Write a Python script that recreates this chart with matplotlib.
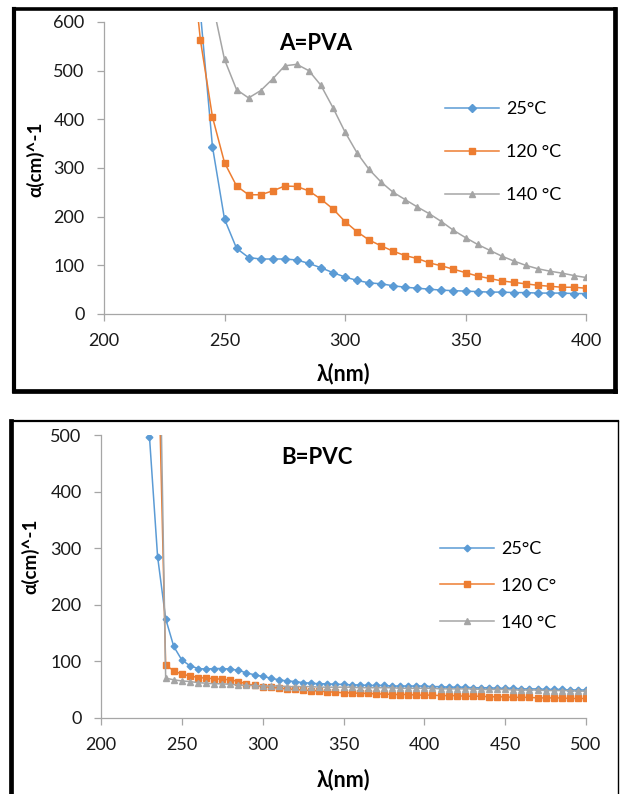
import numpy as np
import matplotlib.pyplot as plt
from matplotlib.lines import Line2D

plt.rcParams['font.family'] = ['Lato', 'DejaVu Sans']

# ---- data, panel A (PVA) ----
lam_a = np.arange(235, 401, 5)
a_25 = [1000, 620, 344, 195, 135, 116, 113, 113, 113, 111, 104, 95, 85, 76, 69, 64, 62,
        58, 55, 53, 51, 49, 48, 47, 46, 45, 45, 44, 44, 43, 43, 43, 42, 42]
a_120 = [800, 563, 405, 311, 263, 245, 245, 253, 263, 262, 253, 236, 216, 190, 169, 152, 140,
         129, 120, 114, 105, 99, 92, 85, 78, 73, 68, 65, 62, 59, 57, 55, 55, 53]
a_140 = [1200, 900, 640, 523, 461, 444, 459, 483, 510, 513, 500, 470, 424, 374, 331, 297, 271,
         250, 235, 220, 206, 190, 172, 157, 143, 131, 119, 109, 100, 93, 88, 84, 79, 75]

# ---- data, panel B (PVC) ----
lam_b25 = np.arange(230, 501, 5)
lam_b = np.arange(235, 501, 5)
b_25 = [496, 285, 175, 126, 102, 92, 87, 86, 87, 87, 86, 84, 79, 76, 73, 70, 67, 65, 64,
        62, 61, 60, 60, 59, 59, 58, 58, 57, 57, 57, 56, 56, 56, 56, 56, 55, 55, 54, 54,
        54, 53, 53, 53, 52, 52, 52, 51, 51, 51, 50, 50, 50, 49, 49, 49]
b_120 = [700, 93, 83, 77, 74, 71, 70, 69, 68, 67, 64, 60, 57, 55, 54, 52, 51, 50, 49,
         48, 47, 46, 45, 44, 44, 43, 43, 42, 42, 41, 41, 41, 40, 40, 40, 39, 39, 39,
         38, 38, 38, 37, 37, 37, 36, 36, 36, 35, 35, 35, 35, 34, 34, 34]
b_140 = [900, 70, 67, 65, 64, 62, 61, 60, 60, 59, 58, 57, 57, 56, 56, 56, 55, 55, 55,
         55, 54, 54, 54, 54, 54, 53, 53, 53, 53, 53, 52, 52, 52, 52, 52, 51, 51, 51,
         51, 51, 50, 50, 50, 50, 49, 49, 49, 49, 48, 48, 48, 48, 47, 47]

blue, orange, grey = '#5B9BD5', '#ED7D31', '#A5A5A5'
W, H = 620, 794

fig = plt.figure(figsize=(W / 100, H / 100), dpi=100)


def px(x0, y0, x1, y1):
    # pixel box -> figure fraction [left, bottom, width, height]
    return [x0 / W, 1 - y1 / H, (x1 - x0) / W, (y1 - y0) / H]


def style(ax):
    for s in ['top', 'right']:
        ax.spines[s].set_visible(False)
    for s in ['left', 'bottom']:
        ax.spines[s].set_color('#A6A6A6')
        ax.spines[s].set_linewidth(0.9)
    ax.tick_params(direction='out', length=5, width=0.9, color='#A6A6A6',
                   labelsize=13, labelcolor='#1a1a1a', pad=9)


ax1 = fig.add_axes(px(104, 22, 586, 314))
ax1.plot(lam_a, a_25, color=blue, marker='D', ms=3.6, lw=1.1, label='25°C')
ax1.plot(lam_a, a_120, color=orange, marker='s', ms=4.6, lw=1.1, label='120 °C')
ax1.plot(lam_a, a_140, color=grey, marker='^', ms=4.6, lw=1.1, label='140 °C')
ax1.set_xlim(200, 400)
ax1.set_ylim(0, 600)
ax1.set_xticks(range(200, 401, 50))
ax1.set_yticks(range(0, 601, 100))
style(ax1)
ax1.set_xlabel('λ(nm)', fontsize=15.5, fontweight='bold', va='center')
ax1.set_ylabel('α(cm)^-1', fontsize=13.5, fontweight='bold', va='center')
ax1.xaxis.set_label_coords(0.496, -0.205)
ax1.yaxis.set_label_coords(-0.143, 0.53)
fig.text(316 / W, 1 - 44 / H, 'A=PVA', fontsize=16, fontweight='bold', ha='center', va='center')
fig.legend(handles=ax1.get_lines(), loc='upper left', bbox_to_anchor=(445 / W, 1 - 101 / H),
           frameon=False, fontsize=13, handlelength=3.0, handletextpad=0.4,
           labelspacing=1.5, borderpad=0, borderaxespad=0)

ax2 = fig.add_axes(px(101, 435, 586, 717.7))
ax2.plot(lam_b25, b_25, color=blue, marker='D', ms=3.4, lw=1.1, label='25°C')
ax2.plot(lam_b, b_120, color=orange, marker='s', ms=4.2, lw=1.1, label='120 C°')
ax2.plot(lam_b, b_140, color=grey, marker='^', ms=4.2, lw=1.1, label='140 °C')
ax2.set_xlim(200, 500)
ax2.set_ylim(0, 500)
ax2.set_xticks(range(200, 501, 50))
ax2.set_yticks(range(0, 501, 100))
style(ax2)
ax2.set_xlabel('λ(nm)', fontsize=15.5, fontweight='bold', va='center')
ax2.set_ylabel('α(cm)^-1', fontsize=13.5, fontweight='bold', va='center')
ax2.xaxis.set_label_coords(0.499, -0.22)
ax2.yaxis.set_label_coords(-0.146, 0.572)
fig.text(317 / W, 1 - 457 / H, 'B=PVC', fontsize=16, fontweight='bold', ha='center', va='center')
fig.legend(handles=ax2.get_lines(), loc='upper left', bbox_to_anchor=(440 / W, 1 - 541 / H),
           frameon=False, fontsize=13, handlelength=3.0, handletextpad=0.4,
           labelspacing=1.15, borderpad=0, borderaxespad=0)


# black frames around the two panels
def seg(x0, y0, x1, y1, lw):
    fig.add_artist(Line2D([x0 / W, x1 / W], [1 - y0 / H, 1 - y1 / H], color='black',
                          lw=lw, solid_capstyle='projecting', transform=fig.transFigure))


seg(14, 9, 615, 9, 2.6)
seg(14, 9, 14, 391, 3.0)
seg(14, 391, 615, 391, 3.4)
seg(615, 9, 615, 391, 3.4)

seg(11, 421, 618, 421, 1.6)
seg(618, 421, 618, 800, 1.0)
seg(11, 421, 11, 800, 3.4)

fig.savefig('out.png', dpi=100)
